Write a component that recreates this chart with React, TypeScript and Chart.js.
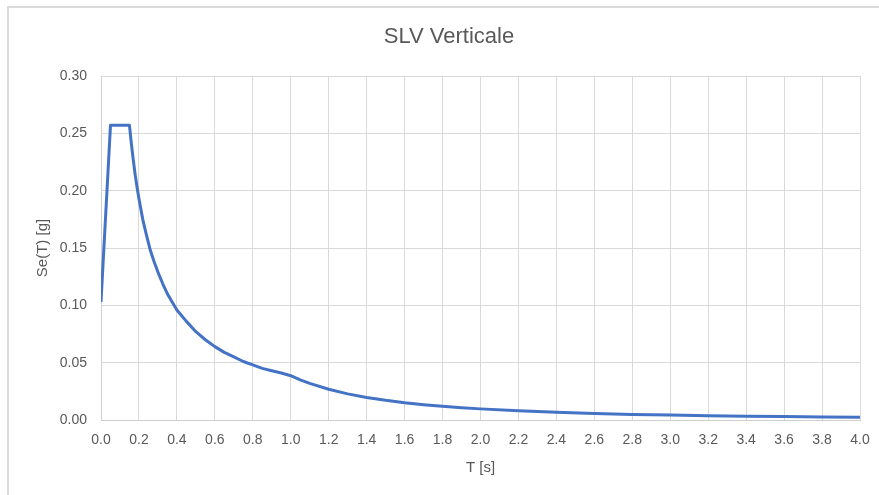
import React, { useEffect, useRef } from "react";
import { Chart, registerables } from "chart.js";

Chart.register(...registerables);

const periods: number[] = [
  0, 0.05, 0.15, 0.16, 0.17, 0.18, 0.19, 0.2, 0.22, 0.24, 0.26, 0.28, 0.3, 0.325, 0.35, 0.375, 0.4, 0.45, 0.5, 0.55,
  0.6, 0.65, 0.7, 0.75, 0.8, 0.85, 0.9, 0.95, 1.0, 1.05, 1.1, 1.2, 1.3, 1.4, 1.5, 1.6, 1.7, 1.8, 1.9, 2.0, 2.2, 2.4,
  2.6, 2.8, 3.0, 3.2, 3.4, 3.6, 3.8, 4.0,
];
const seValues: number[] = [
  0.103, 0.257, 0.257, 0.241, 0.227, 0.214, 0.203, 0.193, 0.175, 0.161, 0.148, 0.138, 0.129, 0.119, 0.11, 0.103,
  0.096, 0.086, 0.077, 0.07, 0.064, 0.059, 0.055, 0.051, 0.048, 0.045, 0.043, 0.041, 0.0386, 0.035, 0.0319, 0.0268,
  0.0228, 0.0197, 0.0172, 0.0151, 0.0134, 0.0119, 0.0107, 0.0097, 0.008, 0.0067, 0.0057, 0.0049, 0.0043, 0.0038,
  0.0033, 0.003, 0.0027, 0.0024,
];
const chartTitle = "SLV Verticale";
const xTitle = "T [s]";
const yTitle = "Se(T) [g]";

export default function App() {
  const ref = useRef<HTMLCanvasElement | null>(null);

  useEffect(() => {
    document.body.style.margin = "0";
    document.body.style.overflow = "hidden";
    if (!ref.current) return;
    const font = "'Liberation Sans', Arial, sans-serif";
    const text = "#595959";
    const grid = "#d9d9d9";
    const titlePlugin = {
      id: "centeredTitle",
      afterDraw(c: any) {
        const ctx = c.ctx;
        ctx.save();
        ctx.font = `22px ${font}`;
        ctx.fillStyle = text;
        ctx.textAlign = "center";
        ctx.textBaseline = "middle";
        ctx.fillText(chartTitle, 442, 31);
        ctx.restore();
      },
    };
    const chart = new Chart(ref.current, {
      type: "line",
      data: {
        datasets: [
          {
            data: periods.map((t, i) => ({ x: t, y: seValues[i] })),
            borderColor: "#4472C4",
            borderWidth: 3,
            pointRadius: 0,
            tension: 0,
            fill: false,
            borderJoinStyle: "round",
          },
        ],
      },
      options: {
        animation: false,
        responsive: false,
        layout: { padding: { top: 70, right: 31, bottom: 0, left: 0 } },
        plugins: {
          legend: { display: false },
          tooltip: { enabled: false },
          title: { display: false },
        },
        scales: {
          x: {
            type: "linear",
            min: 0,
            max: 4,
            afterFit: (s: any) => {
              s.height = 75;
            },
            ticks: {
              stepSize: 0.2,
              color: text,
              padding: 12,
              font: { family: font, size: 14 },
              callback: (v: any) => Number(v).toFixed(1),
            },
            grid: { color: grid, lineWidth: 1, drawTicks: false },
            border: { color: "#cfcfcf", width: 1 },
            title: {
              display: true,
              text: xTitle,
              color: text,
              font: { family: font, size: 15 },
              padding: { top: 0, bottom: 18 },
            },
          },
          y: {
            type: "linear",
            min: 0,
            max: 0.3,
            afterFit: (s: any) => {
              s.width = 94;
            },
            ticks: {
              stepSize: 0.05,
              color: text,
              padding: 14,
              font: { family: font, size: 14 },
              callback: (v: any) => Number(v).toFixed(2),
            },
            grid: { color: grid, lineWidth: 1, drawTicks: false },
            border: { color: "#cfcfcf", width: 1 },
            title: {
              display: true,
              text: yTitle,
              color: text,
              font: { family: font, size: 15 },
              padding: { top: 27, bottom: 0 },
            },
          },
        },
      },
      plugins: [titlePlugin],
    });
    return () => chart.destroy();
  }, []);

  return (
    <div style={{ position: "relative", width: 879, height: 495, overflow: "hidden", background: "#fff" }}>
      <div
        style={{
          position: "absolute",
          left: 7,
          top: 6,
          width: 900,
          height: 520,
          borderTop: "2px solid #d9d9d9",
          borderLeft: "2px solid #d9d9d9",
          boxSizing: "border-box",
        }}
      />
      <canvas ref={ref} width={884} height={489} style={{ position: "absolute", left: 7, top: 6 }} />
    </div>
  );
}
